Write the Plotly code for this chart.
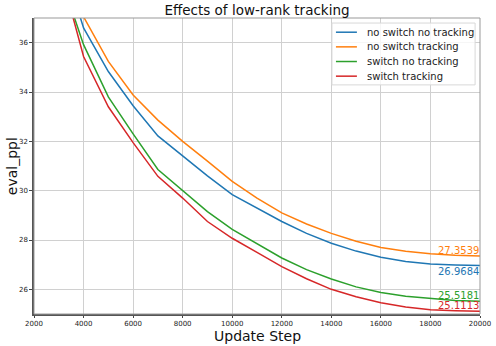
import plotly.graph_objects as go

steps = [3500, 4000, 5000, 6000, 7000, 8000, 9000, 10000, 11000, 12000,
         13000, 14000, 15000, 16000, 17000, 18000, 19000, 20000]

no_switch_no_tracking = [38.2, 36.6, 34.83, 33.44, 32.22, 31.4, 30.6, 29.84, 29.3, 28.75,
                         28.27, 27.87, 27.55, 27.3, 27.13, 27.03, 26.99, 26.9684]
no_switch_tracking = [38.7, 37.05, 35.24, 33.88, 32.86, 32.0, 31.2, 30.38, 29.7, 29.1,
                      28.65, 28.27, 27.95, 27.7, 27.54, 27.44, 27.38, 27.3539]
switch_no_tracking = [37.4, 35.92, 33.8, 32.3, 30.86, 30.0, 29.15, 28.43, 27.85, 27.27,
                      26.8, 26.42, 26.1, 25.87, 25.72, 25.62, 25.55, 25.5181]
switch_tracking = [37.3, 35.44, 33.4, 31.95, 30.58, 29.7, 28.75, 28.07, 27.5, 26.92,
                   26.43, 26.0, 25.7, 25.46, 25.28, 25.17, 25.13, 25.1113]

names = ['no switch no tracking', 'no switch tracking', 'switch no tracking', 'switch tracking']
series = [no_switch_no_tracking, no_switch_tracking, switch_no_tracking, switch_tracking]
colors = ['#1f77b4', '#ff7f0e', '#2ca02c', '#d62728']

fig = go.Figure()
for name, ys, c in zip(names, series, colors):
    fig.add_trace(go.Scatter(x=steps, y=ys, mode='lines', name=name,
                             line=dict(color=c, width=1.5), showlegend=False))

# final value labels at the right end
for ys, c, below in zip(series, colors, [True, False, False, False]):
    fig.add_annotation(x=steps[-1], y=ys[-1], text=f'{ys[-1]:.4f}',
                       xanchor='right', yanchor='top' if below else 'bottom',
                       xshift=1, yshift=1 if below else -2, showarrow=False,
                       font=dict(size=10, color=c))

# compact matplotlib-style legend box
fig.add_shape(type='rect', xref='paper', yref='paper', x0=0.668, x1=0.989, y0=0.774, y1=0.983,
              line=dict(color='#d8d8d8', width=1), fillcolor='rgba(255,255,255,0.8)', layer='above')
for i, (name, c) in enumerate(zip(names, colors)):
    yy = 0.952 - i * 0.0495
    fig.add_shape(type='line', xref='paper', yref='paper', x0=0.677, x1=0.724, y0=yy, y1=yy,
                  line=dict(color=c, width=1.5), layer='above')
    fig.add_annotation(xref='paper', yref='paper', x=0.742, y=yy, text=name, showarrow=False,
                       xanchor='left', yanchor='middle', font=dict(size=10, color='#222'))

# light top/right frame, darker left/bottom spines come from the axis lines
fig.add_shape(type='rect', xref='paper', yref='paper', x0=0, x1=1, y0=0, y1=1,
              line=dict(color='#999', width=1), layer='above')

# axis titles
fig.add_annotation(xref='paper', yref='paper', x=0.5, y=-0.074, text='Update Step',
                   showarrow=False, xanchor='center', yanchor='middle',
                   font=dict(size=14, color='#111'))
fig.add_annotation(xref='paper', yref='paper', x=-0.049, y=0.5, text='eval_ppl', textangle=-90,
                   showarrow=False, xanchor='center', yanchor='middle',
                   font=dict(size=14, color='#111'))

fig.update_layout(
    width=496, height=346,
    margin=dict(l=34, r=16, t=18, b=32),
    paper_bgcolor='white', plot_bgcolor='white',
    font=dict(family='DejaVu Sans', color='#222'),
    title=dict(text='Effects of low-rank tracking', xref='paper', x=0.5, xanchor='center',
               yref='container', y=0.971, yanchor='middle',
               font=dict(size=13.5, color='#111')),
    showlegend=False,
)
fig.update_xaxes(range=[2000, 20000], dtick=2000, tick0=2000, tickformat='d', automargin=False,
                 showgrid=True, gridcolor='#d0d0d0', gridwidth=1,
                 showline=True, linecolor='#555', linewidth=1.5,
                 ticks='outside', ticklen=2, tickcolor='#444',
                 tickfont=dict(size=7, color='#222'), zeroline=False)
fig.update_yaxes(range=[25, 37], dtick=2, tick0=26, automargin=False,
                 showgrid=True, gridcolor='#d0d0d0', gridwidth=1,
                 showline=True, linecolor='#555', linewidth=1.5,
                 ticks='outside', ticklen=3, tickcolor='#444',
                 tickfont=dict(size=7, color='#222'), zeroline=False)

# drop the default page margin so the figure sits at the window's corner
fig.write_html('out.html', config={'displayModeBar': False},
               post_script="document.body.style.margin='0';")
